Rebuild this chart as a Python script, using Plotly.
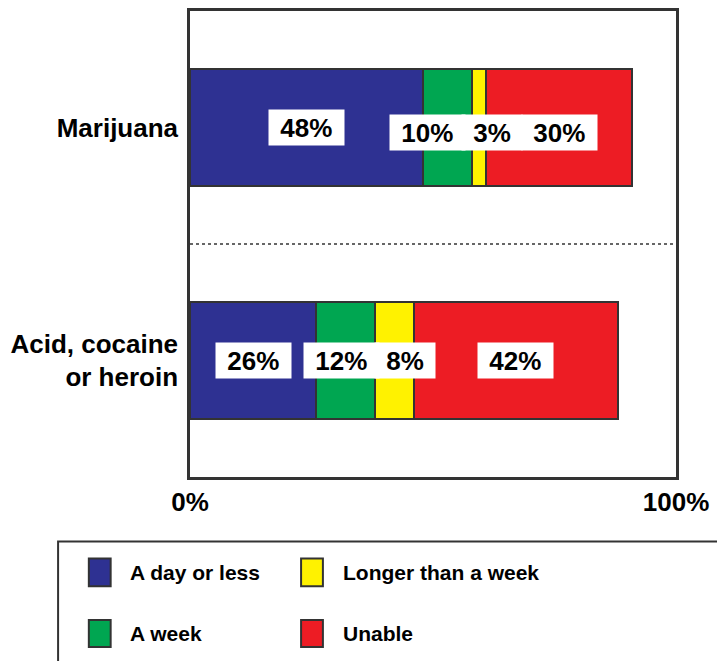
import plotly.graph_objects as go

# ---- data ----
categories = ["Acid, cocaine<br>or heroin", "Marijuana"]
series_names = ["A day or less", "A week", "Longer than a week", "Unable"]
day_or_less = [26, 48]
a_week = [12, 10]
longer_than_week = [8, 3]
unable = [42, 30]
x_tick_vals = [0, 100]
x_tick_labels = ["0%", "100%"]

series_values = [day_or_less, a_week, longer_than_week, unable]
colors = ["#2e3192", "#00a651", "#fff200", "#ed1c24"]

# label pixel nudges (style only) [series][category]
label_xshift = [[0, 0], [-4, -20], [11, 13], [0, 0]]
label_yshift = [[0, 0], [0, -5], [0, -5], [0, -5]]

FONT = "Liberation Sans, Arial, sans-serif"
W, H = 717, 661
ML, MT = 190, 8
MR = W - 680
MB = H - 477
PW, PH = W - ML - MR, H - MT - MB


def px_x(px):
    # reference pixel -> paper
    return (px - ML) / PW


def px_y(py):
    return (H - MB - py) / PH


ypos = list(range(len(categories)))

fig = go.Figure()
for name, vals, col in zip(series_names, series_values, colors):
    fig.add_trace(go.Bar(
        y=ypos, x=vals, name=name, orientation="h", width=0.5,
        marker=dict(color=col, line=dict(color="#333333", width=2)),
        showlegend=False,
    ))

annotations = []
cum = [0] * len(categories)
for si, vals in enumerate(series_values):
    for ci, v in enumerate(vals):
        center = cum[ci] + v / 2
        annotations.append(dict(
            x=center, y=ypos[ci], xref="x", yref="y",
            text="\u00a0" + f"{v}%" + "\u00a0",
            showarrow=False, bgcolor="white", borderpad=4, height=27,
            xshift=label_xshift[si][ci], yshift=label_yshift[si][ci],
            font=dict(family=FONT, size=26, color="black", weight="bold"),
        ))
        cum[ci] += v

shapes = [
    dict(type="line", xref="paper", yref="y", x0=0, x1=1, y0=0.5, y1=0.5,
         line=dict(color="#666666", width=2, dash="dot")),
    # legend frame
    dict(type="rect", xref="paper", yref="paper",
         x0=px_x(57), x1=px_x(730), y0=px_y(542), y1=px_y(680),
         line=dict(color="#333333", width=2), fillcolor="rgba(0,0,0,0)"),
]

leg_cols = [(88, 127), (302, 342)]
leg_rows = [(559, 587), (621, 648)]
leg_order = [(0, 0), (0, 1), (1, 0), (1, 1)]  # (col,row) per series
for (c, r), name, col in zip(leg_order, series_names, colors):
    sx, tx = leg_cols[c]
    y0, y1 = leg_rows[r]
    shapes.append(dict(type="rect", xref="paper", yref="paper",
                       x0=px_x(sx), x1=px_x(sx + 22), y0=px_y(y1), y1=px_y(y0),
                       fillcolor=col, line=dict(color="#333333", width=2)))
    annotations.append(dict(x=px_x(tx), y=px_y((y0 + y1) / 2), xref="paper", yref="paper",
                            xanchor="left", yanchor="middle", showarrow=False, text=name,
                            font=dict(family=FONT, size=21, color="black", weight="bold")))

fig.update_layout(
    width=W, height=H, margin=dict(l=ML, r=MR, t=MT, b=MB),
    barmode="stack", plot_bgcolor="white", paper_bgcolor="white",
    shapes=shapes, annotations=annotations, showlegend=False,
    xaxis=dict(range=[0, 100], tickvals=x_tick_vals, ticktext=x_tick_labels,
               showgrid=False, zeroline=False, showline=True, mirror=True,
               linecolor="#333333", linewidth=2.5, ticks="", ticklabelstandoff=0,
               tickfont=dict(family=FONT, size=26, color="black", weight="bold")),
    yaxis=dict(range=[-0.5, 1.5], tickvals=ypos, ticktext=categories,
               showgrid=False, zeroline=False, showline=True, mirror=True,
               linecolor="#333333", linewidth=2.5, ticks="", ticklabelstandoff=4,
               tickfont=dict(family=FONT, size=26, color="black", weight="bold")),
)

fig.write_html(
    "out.html",
    config={"displayModeBar": False},
    post_script="document.body.style.margin='0';document.body.style.overflow='hidden';",
)
